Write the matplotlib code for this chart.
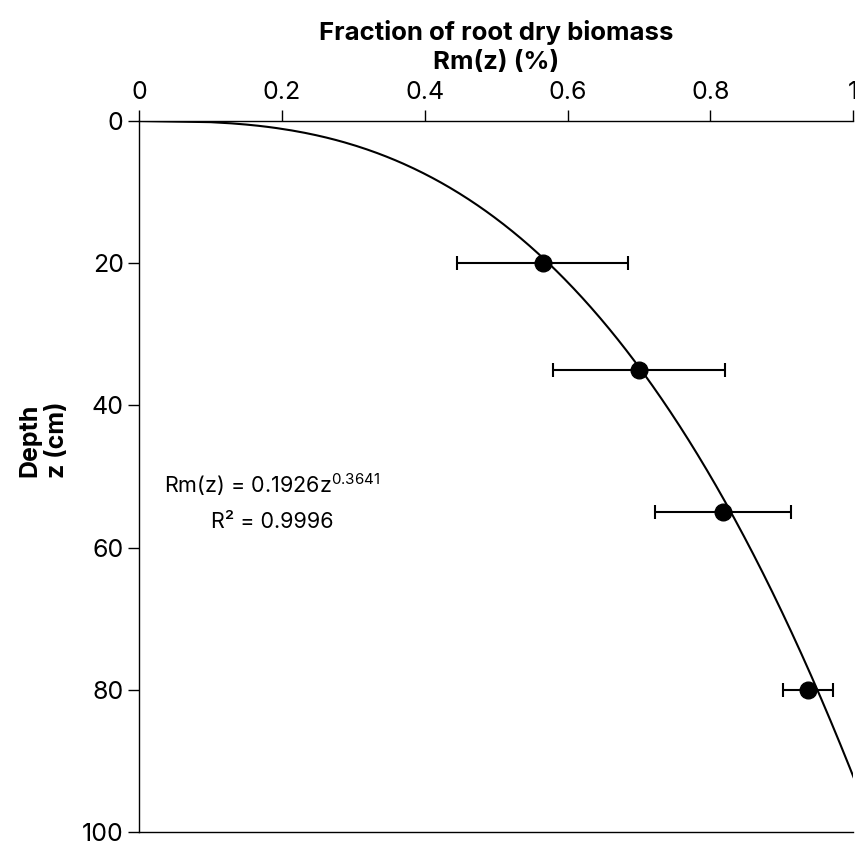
import numpy as np
import matplotlib
matplotlib.use("Agg")
import matplotlib.pyplot as plt

plt.rcParams['font.family'] = ['Inter', 'DejaVu Sans']

depth = [20, 35, 55, 80]
fraction = [0.565, 0.700, 0.818, 0.937]
frac_err = [0.120, 0.120, 0.095, 0.035]
coef_a = 0.1926
coef_b = 0.3641
x_ticks = [0, 0.2, 0.4, 0.6, 0.8, 1]
x_tick_labels = ['0', '0.2', '0.4', '0.6', '0.8', '1']
y_ticks = [0, 20, 40, 60, 80, 100]

fig = plt.figure(figsize=(8.55, 8.43), dpi=100)
ax = fig.add_axes([0.1626, 0.013, 0.8354, 0.8435])

z = np.linspace(0, 100, 600)
ax.plot(coef_a * z ** coef_b, z, color='black', lw=1.5, clip_on=True)
ax.errorbar(fraction, depth, xerr=frac_err, fmt='o', color='black', ms=12,
            elinewidth=1.5, capsize=5, capthick=1.5)

ax.set_xlim(0, 1)
ax.set_ylim(100, 0)
ax.xaxis.tick_top()
ax.xaxis.set_label_position('top')
ax.set_xticks(x_ticks)
ax.set_xticklabels(x_tick_labels)
ax.set_yticks(y_ticks)
ax.tick_params(axis='both', labelsize=18, length=8, width=1, direction='out')
ax.tick_params(axis='y', pad=3)
ax.tick_params(axis='x', pad=4)
ax.spines['right'].set_visible(False)
for s in ['left', 'top', 'bottom']:
    ax.spines[s].set_linewidth(1)

ax.set_xlabel('Fraction of root dry biomass\nRm(z) (%)', fontsize=18.5, fontweight='bold', labelpad=9,
              linespacing=1.35)
ax.set_ylabel('Depth\nz (cm)', fontsize=18, fontweight='bold', linespacing=1.25)
ax.yaxis.set_label_coords(-0.098, 0.551)

ax.text(0.186, 51.2, r'Rm(z) = 0.1926z$^{\mathregular{0.3641}}$', fontsize=15.5, ha='center', va='center')
ax.text(0.186, 56.4, 'R² = 0.9996', fontsize=15.5, ha='center', va='center')

fig.savefig('out.png', dpi=100)
